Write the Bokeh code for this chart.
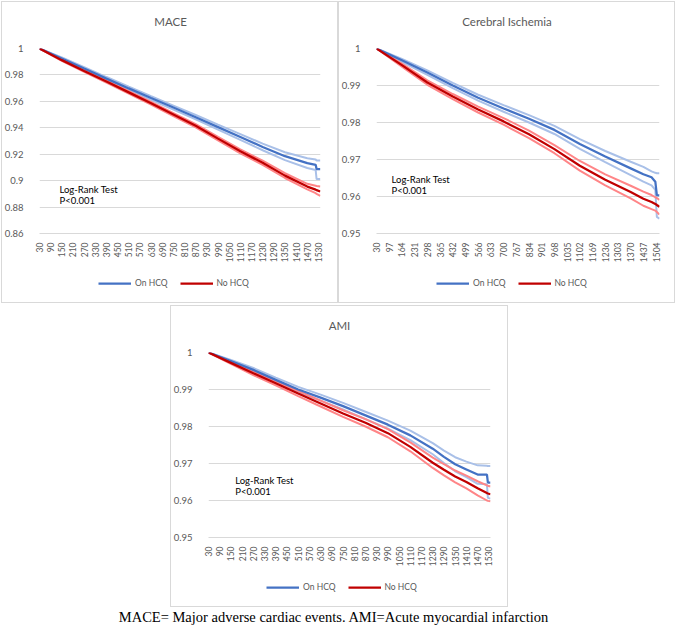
import math
from bokeh.plotting import figure
from bokeh.models import FixedTicker, Legend, LegendItem, Label, Div, Spacer, Range1d
from bokeh.layouts import column, row
from bokeh.embed import file_html
from bokeh.resources import INLINE

# ---------------- data ----------------
mace_days = [30, 150, 270, 390, 510, 630, 750, 870, 990, 1110, 1230, 1350, 1470, 1515, 1520, 1540]
mace_on_est = [1.0000, 0.9925, 0.9848, 0.9772, 0.9698, 0.9625, 0.9553, 0.9480, 0.9405, 0.9330, 0.9255, 0.9185, 0.9133, 0.9120, 0.9088, 0.9088]
mace_on_hi = [1.0000, 0.9932, 0.9858, 0.9784, 0.9711, 0.9639, 0.9568, 0.9497, 0.9424, 0.9352, 0.9280, 0.9215, 0.9170, 0.9160, 0.9152, 0.9152]
mace_on_lo = [1.0000, 0.9918, 0.9838, 0.9760, 0.9685, 0.9611, 0.9538, 0.9463, 0.9386, 0.9308, 0.9230, 0.9155, 0.9096, 0.9080, 0.9012, 0.9012]
mace_no_est = [1.0000, 0.9912, 0.9830, 0.9750, 0.9668, 0.9585, 0.9500, 0.9415, 0.9318, 0.9222, 0.9135, 0.9038, 0.8955, 0.8932, 0.8928, 0.8918]
mace_no_hi = [1.0000, 0.9917, 0.9837, 0.9758, 0.9677, 0.9595, 0.9511, 0.9427, 0.9331, 0.9237, 0.9151, 0.9056, 0.8976, 0.8962, 0.8960, 0.8955]
mace_no_lo = [1.0000, 0.9907, 0.9823, 0.9742, 0.9659, 0.9575, 0.9489, 0.9403, 0.9305, 0.9207, 0.9119, 0.9020, 0.8934, 0.8905, 0.8900, 0.8885]

cer_days = [30, 164, 298, 432, 566, 700, 834, 968, 1102, 1236, 1370, 1437, 1480, 1500, 1508, 1522]
cer_on_est = [1.0000, 0.9968, 0.9935, 0.9900, 0.9867, 0.9838, 0.9810, 0.9780, 0.9742, 0.9708, 0.9676, 0.9660, 0.9652, 0.9640, 0.9604, 0.9603]
cer_on_hi = [1.0000, 0.9972, 0.9941, 0.9907, 0.9875, 0.9847, 0.9820, 0.9791, 0.9755, 0.9723, 0.9694, 0.9680, 0.9668, 0.9664, 0.9663, 0.9663]
cer_on_lo = [1.0000, 0.9964, 0.9929, 0.9893, 0.9859, 0.9829, 0.9800, 0.9769, 0.9729, 0.9693, 0.9658, 0.9640, 0.9630, 0.9618, 0.9545, 0.9540]
cer_no_est = [1.0000, 0.9955, 0.9908, 0.9870, 0.9835, 0.9803, 0.9768, 0.9728, 0.9683, 0.9645, 0.9612, 0.9594, 0.9585, 0.9580, 0.9577, 0.9572]
cer_no_hi = [1.0000, 0.9959, 0.9914, 0.9877, 0.9843, 0.9812, 0.9778, 0.9739, 0.9696, 0.9660, 0.9629, 0.9613, 0.9604, 0.9598, 0.9596, 0.9591]
cer_no_lo = [1.0000, 0.9951, 0.9902, 0.9863, 0.9827, 0.9794, 0.9758, 0.9717, 0.9670, 0.9630, 0.9595, 0.9575, 0.9566, 0.9562, 0.9558, 0.9551]

ami_days = [30, 150, 270, 390, 510, 630, 750, 870, 990, 1110, 1230, 1290, 1350, 1410, 1470, 1520, 1525, 1539]
ami_on_est = [1.0000, 0.9977, 0.9953, 0.9926, 0.9900, 0.9878, 0.9855, 0.9830, 0.9805, 0.9776, 0.9740, 0.9718, 0.9698, 0.9684, 0.9670, 0.9670, 0.9648, 0.9648]
ami_on_hi = [1.0000, 0.9980, 0.9958, 0.9932, 0.9907, 0.9886, 0.9864, 0.9840, 0.9816, 0.9789, 0.9755, 0.9735, 0.9717, 0.9705, 0.9695, 0.9694, 0.9693, 0.9693]
ami_on_lo = [1.0000, 0.9974, 0.9948, 0.9920, 0.9893, 0.9870, 0.9846, 0.9820, 0.9794, 0.9763, 0.9725, 0.9701, 0.9679, 0.9663, 0.9645, 0.9644, 0.9607, 0.9605]
ami_no_est = [1.0000, 0.9972, 0.9944, 0.9917, 0.9889, 0.9862, 0.9835, 0.9810, 0.9782, 0.9745, 0.9702, 0.9683, 0.9665, 0.9650, 0.9633, 0.9620, 0.9619, 0.9617]
ami_no_hi = [1.0000, 0.9975, 0.9949, 0.9923, 0.9896, 0.9870, 0.9844, 0.9820, 0.9793, 0.9757, 0.9716, 0.9698, 0.9681, 0.9667, 0.9652, 0.9641, 0.9640, 0.9638]
ami_no_lo = [1.0000, 0.9969, 0.9939, 0.9911, 0.9882, 0.9854, 0.9826, 0.9800, 0.9771, 0.9733, 0.9688, 0.9668, 0.9649, 0.9633, 0.9614, 0.9600, 0.9599, 0.9598]

# tick values and labels
x_ticks_60 = [30, 90, 150, 210, 270, 330, 390, 450, 510, 570, 630, 690, 750, 810, 870, 930, 990,
              1050, 1110, 1170, 1230, 1290, 1350, 1410, 1470, 1530]
x_labels_60 = [str(v) for v in x_ticks_60]
x_ticks_67 = [30, 97, 164, 231, 298, 365, 432, 499, 566, 633, 700, 767, 834, 901, 968, 1035,
              1102, 1169, 1236, 1303, 1370, 1437, 1504]
x_labels_67 = [str(v) for v in x_ticks_67]
mace_y_ticks = [0.86, 0.88, 0.9, 0.92, 0.94, 0.96, 0.98, 1.0]
mace_y_labels = ["0.86", "0.88", "0.9", "0.92", "0.94", "0.96", "0.98", "1"]
fine_y_ticks = [0.95, 0.96, 0.97, 0.98, 0.99, 1.0]
fine_y_labels = ["0.95", "0.96", "0.97", "0.98", "0.99", "1"]

series_names = ["On HCQ", "No HCQ"]
note_lines = ["Log-Rank Test", "P<0.001"]
caption_text = "MACE= Major adverse cardiac events. AMI=Acute myocardial infarction"

# ---------------- style ----------------
BLUE = "#4472C4"
BLUE_CI = "#A9C0E8"
RED = "#C00000"
RED_CI = "#FF8587"
GRID = "#D9D9D9"
TXT = "#595959"
FONT = "Lato"
H_TITLE = 34
H_MAIN = 230
H_LEG = 38
B_TOP = 13
B_BOTTOM = 30


def strip(width, height, x_range, y_range):
    s = figure(width=width, height=height, x_range=x_range, y_range=y_range,
               x_axis_type=None, y_axis_type=None, min_border=0,
               output_backend="svg", toolbar_location=None, tools="")
    s.background_fill_color = None
    s.border_fill_color = None
    s.outline_line_color = None
    s.xgrid.visible = False
    s.ygrid.visible = False
    return s


def panel(title, days, on_est, on_lo, on_hi, no_est, no_lo, no_hi,
          x_end, x_ticks, x_labels, y_start, y_ticks, y_labels,
          width, b_left, b_right, note_dx, note_dy, legend_dx):
    p = figure(width=width, height=H_MAIN, x_range=Range1d(30, x_end), y_range=Range1d(y_start, 1.0),
               min_border_left=b_left, min_border_right=b_right,
               min_border_top=B_TOP, min_border_bottom=B_BOTTOM,
               output_backend="svg", toolbar_location=None, tools="")
    p.background_fill_color = "white"
    p.border_fill_color = None
    p.outline_line_color = None

    fw = width - b_left - b_right
    fh = H_MAIN - B_TOP - B_BOTTOM
    dx = (x_end - 30) / fw
    dy = (1.0 - y_start) / fh

    p.xgrid.visible = False
    p.ygrid.grid_line_color = GRID
    p.ygrid.ticker = FixedTicker(ticks=y_ticks)

    ax = p.xaxis[0]
    ax.ticker = FixedTicker(ticks=x_ticks)
    ax.major_label_overrides = dict(zip(x_ticks, x_labels))
    ax.major_label_orientation = math.pi / 2
    ax.axis_line_color = GRID
    ax.major_tick_line_color = None
    ax.minor_tick_line_color = None
    ax.major_label_standoff = 3
    ax.major_label_text_font = FONT
    ax.major_label_text_font_size = "8.5px"
    ax.major_label_text_color = TXT

    ay = p.yaxis[0]
    ay.ticker = FixedTicker(ticks=y_ticks)
    ay.major_label_overrides = dict(zip(y_ticks, y_labels))
    ay.axis_line_color = None
    ay.major_tick_line_color = None
    ay.minor_tick_line_color = None
    ay.major_label_standoff = 10
    ay.major_label_text_font = FONT
    ay.major_label_text_font_size = "9.5px"
    ay.major_label_text_color = TXT

    p.line(days, on_hi, line_color=BLUE_CI, line_width=2)
    p.line(days, on_lo, line_color=BLUE_CI, line_width=2)
    p.line(days, no_hi, line_color=RED_CI, line_width=2)
    p.line(days, no_lo, line_color=RED_CI, line_width=2)
    p.line(days, on_est, line_color=BLUE, line_width=2.25)
    p.line(days, no_est, line_color=RED, line_width=2.25)

    for i, t in enumerate(note_lines):
        p.add_layout(Label(x=30 + note_dx * dx, y=1.0 - (note_dy + 11.5 * i) * dy, text=t,
                           text_align="left", text_baseline="middle",
                           text_font=FONT, text_font_size="9.5px", text_color="black"))

    # title strip above the chart (frame aligned with the chart frame)
    tf = strip(width, H_TITLE, Range1d(30, x_end), Range1d(0, H_TITLE))
    tf.add_layout(Label(x=30 + (width / 2 - b_left) * dx, y=H_TITLE - 20, text=title,
                        text_align="center", text_baseline="middle",
                        text_font=FONT, text_font_size="11.5px", text_color=TXT))

    # legend strip under the chart
    lg = strip(width, H_LEG, Range1d(0, 1), Range1d(0, 1))
    k_on = lg.line(days, on_est, line_color=BLUE, line_width=2.25)
    k_no = lg.line(days, no_est, line_color=RED, line_width=2.25)
    legend = Legend(items=[LegendItem(label=series_names[0], renderers=[k_on]),
                           LegendItem(label=series_names[1], renderers=[k_no])],
                    orientation="horizontal", location=(legend_dx, 13),
                    label_text_font=FONT, label_text_font_size="8.5px", label_text_color=TXT,
                    glyph_width=33, glyph_height=14, label_standoff=4, spacing=12,
                    padding=0, margin=0, border_line_alpha=0, background_fill_alpha=0)
    lg.add_layout(legend)

    return column(tf, p, lg, spacing=0, styles={"box-shadow": "inset 0 0 0 1px #D9D9D9"})


c1 = panel("MACE", mace_days, mace_on_est, mace_on_lo, mace_on_hi, mace_no_est, mace_no_lo, mace_no_hi,
           1541, x_ticks_60, x_labels_60, 0.86, mace_y_ticks, mace_y_labels,
           337, 37, 18, 20, 142.5, 59)
c2 = panel("Cerebral Ischemia", cer_days, cer_on_est, cer_on_lo, cer_on_hi, cer_no_est, cer_no_lo, cer_no_hi,
           1522, x_ticks_67, x_labels_67, 0.95, fine_y_ticks, fine_y_labels,
           337, 38, 16, 15, 132, 60)
c3 = panel("AMI", ami_days, ami_on_est, ami_on_lo, ami_on_hi, ami_no_est, ami_no_lo, ami_no_hi,
           1539, x_ticks_60, x_labels_60, 0.95, fine_y_ticks, fine_y_labels,
           338, 38, 18, 26.7, 129, 58)

caption = Div(text=('<div style="width:655px;margin:0;padding:0;position:relative;top:-5px;'
                    'text-align:center;font-family:\'Liberation Serif\';font-size:14.5px;'
                    'line-height:16px;color:#000;white-space:nowrap">' + caption_text + '</div>'),
              width=674, height=18)

root = column(row(c1, c2, spacing=0),
              row(Spacer(width=169, height=H_TITLE + H_MAIN + H_LEG), c3, spacing=0),
              caption, spacing=2,
              styles={"margin": "1px 0 0 1px"})

open("out.html", "w").write(file_html(root, INLINE))
